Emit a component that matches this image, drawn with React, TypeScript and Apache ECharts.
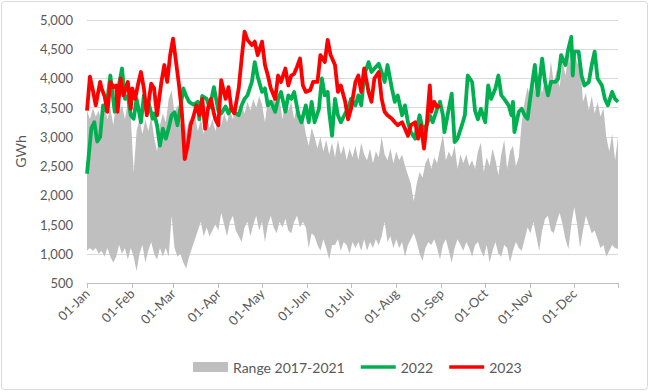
import React, { useEffect, useRef } from "react";
import * as echarts from "echarts";

// Month-start tick positions (day of year, 0 = 01-Jan) and their labels
const monthDays = [0, 31, 59, 90, 120, 151, 181, 212, 243, 273, 304, 334];
const monthLabels = ["01-Jan", "01-Feb", "01-Mar", "01-Apr", "01-May", "01-Jun", "01-Jul", "01-Aug", "01-Sep", "01-Oct", "01-Nov", "01-Dec"];
const tickDays = [...monthDays, 364];

// Range 2017-2021: max and min, one value every 2 days (day 0, 2, ..., 364)
const bandHigh = [
  3450, 3300, 3500, 3350, 3450, 3250, 3550, 3300, 3500, 3200,
  3600, 3400, 3550, 3300, 3600, 3350, 2400, 3100, 3300, 3050,
  3300, 3100, 3350, 3000, 2750, 3200, 3400, 3250, 3650, 3800,
  3400, 3550, 3200, 3400, 3050, 3300, 3150, 3350, 3100, 3300,
  3050, 3350, 3150, 3300, 3100, 3350, 3200, 3400, 3250, 3450,
  3300, 3500, 3350, 3550, 3400, 3600, 3450, 3650, 3500, 3700,
  3550, 3250, 3650, 3500, 3700, 3450, 3650, 3300, 3600, 3450,
  3600, 3300, 3550, 3400, 3350, 3050, 2850, 3150, 3000, 2800,
  3000, 2750, 2950, 2700, 2900, 2650, 2950, 2700, 2850, 2600,
  2800, 2650, 2850, 2600, 2900, 2700, 2600, 2800, 2550, 2750,
  2650, 3000, 2700, 2600, 2800, 2550, 2750, 2600, 2700, 2500,
  2350, 2200, 1900, 2200, 2400, 2300, 2550, 2650, 2450, 2650,
  2550, 2800, 3050, 2600, 2750, 2650, 2850, 2450, 2700, 2550,
  2700, 2500, 2600, 2450, 2750, 2900, 2400, 2650, 2500, 2800,
  2600, 2350, 2700, 2950, 2450, 2750, 2850, 2500, 2650, 3250,
  3600, 3850, 3650, 3900, 3700, 3950, 3750, 4000, 3800, 4300,
  3900, 4150, 3850, 4300, 4050, 4400, 4150, 4500, 4250, 4300,
  3600, 3750, 3450, 3700, 3400, 3600, 3350, 3500, 3000, 2750,
  3050, 2600, 3000,
];
const bandLow = [
  1050, 1100, 1050, 1100, 1000, 1050, 950, 1100, 950, 850,
  950, 1150, 1000, 1100, 900, 1100, 950, 700, 1000, 1150,
  850, 1050, 1200, 1000, 900, 1100, 950, 1100, 950, 1650,
  1100, 950, 1000, 850, 750, 950, 1100, 1250, 1400, 1550,
  1300, 1450, 1300, 1400, 1500, 1400, 1700, 1500, 1300, 1550,
  1650, 1400, 1300, 1200, 1450, 1550, 1300, 1500, 1650, 1400,
  1550, 1200, 1500, 1650, 1450, 1350, 1550, 1450, 1600, 1400,
  1350, 1550, 1650, 1450, 1550, 1450, 1100, 1350, 1300, 1150,
  1050, 1250, 1100, 900, 1150, 1150, 1250, 1050, 1200, 1150,
  1000, 1200, 1100, 1200, 1050, 1250, 1050, 1200, 1100, 1250,
  1150, 1300, 1550, 1200, 1300, 1100, 1250, 1100, 1200, 950,
  1150, 1250, 1350, 1200, 1000, 880, 1100, 1200, 1150, 1250,
  1100, 900, 1150, 1250, 1050, 850, 1100, 1250, 1150, 1050,
  1200, 1100, 950, 1150, 1200, 1050, 950, 1150, 850, 1050,
  1200, 1000, 950, 1150, 1100, 850, 1050, 1200, 1100, 1050,
  1250, 1450, 1350, 1550, 1300, 1050, 1400, 1600, 1650, 1400,
  1350, 1550, 1700, 1500, 1250, 1080, 1500, 1800, 1500, 1100,
  1400, 1650, 1500, 1350, 1400, 1250, 1100, 1150, 950, 1050,
  1150, 1100, 1080,
];

// 2022 daily generation [day of year, GWh]
const y2022 = [
  [0, 2370], [3, 3150], [5, 3250], [7, 2920], [9, 3000], [11, 3540], [13, 3450], [16, 4050], [19, 3430], [21, 3770],
  [24, 4170], [26, 3650], [28, 3700], [30, 3370], [32, 3310], [34, 3650], [37, 3250], [39, 3710], [41, 3430], [42, 3600],
  [45, 3310], [46, 3400], [48, 3200], [50, 2850], [52, 3140], [54, 2970], [56, 3150], [58, 3370], [60, 3420], [62, 3200],
  [64, 3500], [66, 3830], [68, 3700], [70, 3600], [73, 3550], [76, 3600], [77, 3300], [79, 3700], [82, 3650], [84, 3500],
  [87, 3850], [90, 3450], [92, 3400], [95, 3520], [97, 3400], [99, 3500], [101, 3420], [104, 3370], [106, 3540], [108, 3650],
  [110, 3710], [113, 3940], [115, 4280], [117, 4030], [120, 3770], [122, 3830], [124, 3540], [126, 3600], [129, 3430], [131, 3650],
  [133, 3770], [136, 3430], [138, 3710], [140, 3650], [142, 3770], [145, 3370], [147, 3250], [150, 3540], [152, 3250], [154, 3600],
  [156, 3250], [159, 3480], [161, 4000], [163, 3710], [165, 3770], [166, 3430], [168, 3020], [170, 3650], [172, 3370], [174, 3250],
  [177, 3400], [179, 3480], [181, 3650], [184, 3540], [186, 3710], [188, 3540], [190, 4050], [193, 4280], [195, 4110], [197, 4170],
  [200, 4250], [202, 4110], [204, 3940], [206, 4230], [209, 3830], [211, 3600], [213, 3710], [216, 3370], [218, 3540], [220, 3250],
  [222, 3080], [225, 2970], [226, 3140], [228, 3370], [230, 3140], [233, 3200], [235, 3370], [237, 3250], [240, 3480], [242, 3600],
  [244, 3370], [245, 3080], [248, 3480], [250, 3740], [252, 2910], [254, 2970], [257, 3200], [259, 3370], [261, 4050], [264, 3940],
  [266, 3450], [268, 3300], [270, 3480], [273, 3250], [275, 3880], [277, 3650], [280, 3830], [282, 4050], [284, 3710], [286, 3650],
  [289, 3540], [291, 3370], [292, 3600], [293, 3080], [296, 3430], [298, 3480], [300, 3370], [302, 3310], [305, 3880], [307, 4230],
  [309, 3710], [312, 4340], [314, 3940], [316, 3710], [318, 3940], [321, 3940], [323, 4000], [325, 4400], [328, 4230], [330, 4510],
  [332, 4710], [333, 4050], [334, 4460], [337, 4460], [339, 4050], [341, 3880], [344, 3940], [346, 4230], [348, 4460], [350, 4000],
  [353, 3880], [355, 3650], [357, 3540], [360, 3770], [362, 3650], [364, 3600],
];

// 2023 daily generation [day of year, GWh]
const y2023 = [
  [0, 3450], [2, 4030], [4, 3800], [6, 3540], [9, 3940], [10, 3830], [12, 3700], [14, 3430], [16, 3940], [18, 3850],
  [20, 3880], [21, 3430], [23, 4000], [25, 3710], [28, 3940], [30, 3480], [31, 3830], [33, 3650], [35, 3900], [37, 4110],
  [39, 3830], [41, 3370], [44, 3910], [46, 3830], [48, 3370], [51, 3940], [53, 4230], [55, 3940], [57, 4400], [59, 4680],
  [61, 4290], [63, 3900], [65, 3430], [67, 2620], [69, 2850], [71, 3200], [73, 3350], [75, 3540], [77, 3370], [79, 3650],
  [81, 3140], [83, 3500], [85, 3650], [87, 3400], [88, 3300], [90, 3200], [92, 3970], [95, 3650], [97, 3850], [99, 3480],
  [101, 3400], [104, 3830], [106, 4340], [108, 4800], [110, 4660], [113, 4570], [115, 4630], [117, 4400], [120, 4630], [122, 4230],
  [124, 4050], [126, 3830], [129, 3650], [131, 4050], [133, 3940], [136, 4170], [138, 3880], [140, 4050], [142, 4080], [144, 4200],
  [146, 4340], [148, 3880], [150, 3770], [153, 3800], [155, 3940], [158, 3940], [160, 4400], [163, 4280], [165, 4660], [167, 4400],
  [170, 4230], [172, 3770], [174, 3880], [177, 3600], [179, 3300], [181, 3480], [184, 3940], [186, 4050], [188, 3770], [190, 4170],
  [193, 3770], [195, 3600], [197, 4000], [200, 4110], [202, 3650], [204, 3430], [206, 3370], [209, 3310], [211, 3250], [213, 3200],
  [216, 3250], [218, 3140], [220, 3020], [222, 3200], [225, 3250], [227, 2970], [229, 3200], [231, 2800], [233, 3250], [235, 3880],
  [236, 3430], [238, 3600], [240, 3510], [242, 3540],
];

const FONT = "Lato, 'Open Sans', sans-serif";
const TEXT = "#595959";
const GRAY = "#bfbfbf";
const GREEN = "#00b050";
const RED = "#ff0000";
const LINE_ICON = "path://M0,0H40V4H0Z";

export default function App() {
  const ref = useRef<HTMLDivElement>(null);

  useEffect(() => {
    if (!ref.current) return;
    const chart = echarts.init(ref.current, null, { renderer: "svg" });
    const bandDays = bandHigh.map((_, i) => i * 2);

    chart.setOption({
      animation: false,
      textStyle: { fontFamily: FONT },
      graphic: [
        {
          type: "rect",
          shape: { x: 1.5, y: 1.5, width: 646, height: 388, r: 3 },
          style: { fill: "none", stroke: "#d9d9d9", lineWidth: 1 },
          silent: true,
        },
      ],
      grid: { left: 87, right: 32, top: 20, bottom: 109 },
      legend: {
        left: 193,
        top: 360,
        padding: 0,
        itemWidth: 35,
        itemHeight: 10,
        itemGap: 16,
        textStyle: { color: TEXT, fontSize: 14, fontFamily: FONT },
        data: [
          { name: "Range 2017-2021", icon: "rect", itemStyle: { color: GRAY } },
          { name: "2022", icon: LINE_ICON, itemStyle: { color: GREEN } },
          { name: "2023", icon: LINE_ICON, itemStyle: { color: RED } },
        ],
      },
      xAxis: {
        type: "value",
        min: 0,
        max: 364,
        axisLine: { show: true, lineStyle: { color: GRAY } },
        axisTick: { show: true, length: 5, customValues: tickDays, lineStyle: { color: GRAY } },
        axisLabel: {
          customValues: monthDays,
          formatter: (v: number) => monthLabels[monthDays.indexOf(v)] ?? "",
          rotate: 45,
          color: TEXT,
          fontSize: 13,
          fontFamily: FONT,
          margin: 8,
        },
        splitLine: { show: false },
      },
      yAxis: {
        type: "value",
        min: 500,
        max: 5000,
        interval: 500,
        name: "GWh",
        nameLocation: "middle",
        nameRotate: 90,
        nameGap: 60,
        nameTextStyle: { color: TEXT, fontSize: 14, fontFamily: FONT },
        axisLine: { show: false },
        axisTick: { show: false },
        axisLabel: {
          color: TEXT,
          fontSize: 13,
          fontFamily: FONT,
          margin: 14,
          formatter: (v: number) => v.toLocaleString("en-US"),
        },
        splitLine: { lineStyle: { color: "#d9d9d9", width: 1 } },
      },
      series: [
        {
          name: "Range 2017-2021",
          type: "custom",
          coordinateSystem: "cartesian2d",
          data: [[0, bandLow[0]]],
          itemStyle: { color: GRAY },
          silent: true,
          clip: true,
          z: 1,
          renderItem: (_params: any, api: any) => {
            const top = bandDays.map((d, i) => api.coord([d, bandHigh[i]]));
            const bottom = bandDays.map((d, i) => api.coord([d, bandLow[i]])).reverse();
            return {
              type: "polygon",
              shape: { points: top.concat(bottom) },
              style: { fill: GRAY, stroke: "none" },
            };
          },
        },
        {
          name: "2022",
          type: "line",
          data: y2022,
          symbol: "none",
          color: GREEN,
          lineStyle: { width: 3.8, color: GREEN, join: "round" },
          z: 3,
        },
        {
          name: "2023",
          type: "line",
          data: y2023,
          symbol: "none",
          color: RED,
          lineStyle: { width: 3.8, color: RED, join: "round" },
          z: 4,
        },
      ],
    });
    return () => chart.dispose();
  }, []);

  return (
    <div style={{ position: "fixed", left: 0, top: 0, width: 650, height: 392, background: "#fff" }}>
      <div ref={ref} style={{ width: 650, height: 392 }} />
    </div>
  );
}
